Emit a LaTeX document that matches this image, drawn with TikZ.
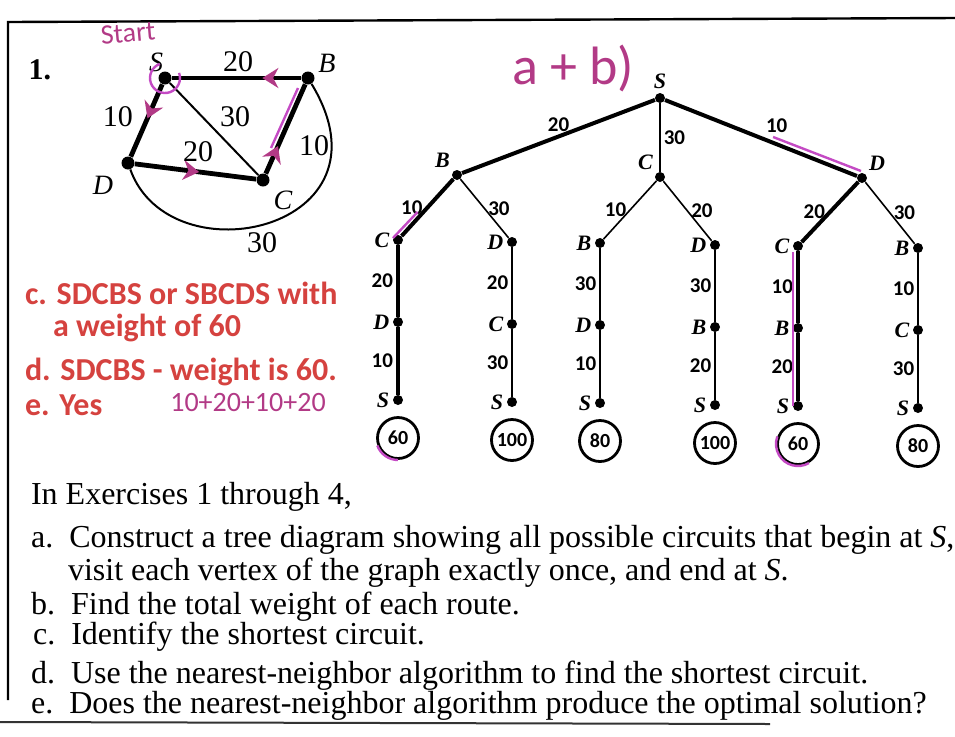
\documentclass[tikz,border=0pt]{standalone}
\usepackage{fontspec}
\setmainfont{Liberation Serif}
\setsansfont{Carlito}
\usetikzlibrary{calc,arrows.meta,decorations.markings}
\definecolor{inkred}{HTML}{D5423F}
\definecolor{penmag}{HTML}{B23A86}
\definecolor{hilite}{HTML}{C44AC4}

\begin{document}
\begin{tikzpicture}[x=0.5pt,y=-0.5pt,
  gdot/.style={circle,fill=black,inner sep=0pt,minimum size=6.5pt},
  tdot/.style={circle,fill=black,inner sep=0pt,minimum size=5pt},
  heavy/.style={draw=black,line width=2.4pt},
  light/.style={draw=black,line width=1pt},
  glab/.style={font=\fontsize{15}{15}\selectfont},
  gvlab/.style={font=\fontsize{14}{14}\selectfont\itshape,inner sep=0.5pt},
  tlab/.style={font=\sffamily\bfseries\fontsize{10.5}{10.5}\selectfont,inner sep=1.5pt},
  tvlab/.style={font=\bfseries\fontsize{11}{11}\selectfont\itshape,inner sep=1.5pt},
  total/.style={circle,draw=black,line width=1.4pt,minimum size=20.5pt,inner sep=0pt,
    font=\sffamily\bfseries\fontsize{10}{10}\selectfont},
  answer/.style={anchor=west,text=inkred,font=\sffamily\bfseries\fontsize{16}{16}\selectfont},
  hand/.style={text=penmag,font=\sffamily},
  task/.style={anchor=west,font=\fontsize{16}{16}\selectfont},
  pen/.style={draw=hilite,line width=1.2pt},
  dirmark/.style={postaction={decorate},decoration={markings,
    mark=at position #1 with {\arrow[penmag]{Stealth[length=8pt,width=10pt]}}}},
]
\useasboundingbox (0,0) rectangle (955,736);
% page frame
\draw[line width=1.2pt] (8,700) -- (8,22) -- (955,18);
\draw[line width=1pt,black!80] (0,722) -- (770,724);

% the graph of exercise 1
\node[font=\bfseries\fontsize{15}{15}\selectfont] (num) at (40,70) {1.};
\node[hand,font=\sffamily\fontsize{14}{14}\selectfont,rotate=5,inner sep=0.5pt] (start) at (128,33) {Start};
\node[gdot] (S) at (165,78) {};
\node[gdot] (B) at (308,78) {};
\node[gdot] (D) at (128,163) {};
\node[gdot] (C) at (263,180) {};
\node[gvlab] at (156,62) {S};
\node[gvlab] at (327,63) {B};
\node[gvlab] at (103,185) {D};
\node[gvlab] at (283,200) {C};
\draw[heavy,dirmark=0.3] (B) -- (S);
\draw[heavy,dirmark=0.47] (S) -- (D);
\draw[heavy,dirmark=0.53] (D) -- (C);
\draw[heavy,dirmark=0.31] (C) -- (B);
\draw[light] (S) -- (C);
\draw[light] (D) .. controls (170,280) and (400,230) .. (B);
\node[glab] at (238,62) {20};
\node[glab] at (118,117) {10};
\node[glab] at (235,117) {30};
\node[glab] at (198,152) {20};
\node[glab] at (314,146) {10};
\node[glab] at (262,243) {30};
\draw[pen] (298,88) -- (271,148);
\draw[pen] ($(S)+(-20:15)$) arc[start angle=-20,end angle=250,radius=15];

% tree of all circuits
\node[hand,font=\sffamily\fontsize{27}{27}\selectfont] (ab) at (573,68) {a + b)};
\node[tdot,label={[tvlab]above:S}] (r) at (660,98) {};
\node[tdot,label={[tvlab]above left:B}] (b1) at (457,175) {};
\node[tdot,label={[tvlab]above left:C}] (c1) at (660,177) {};
\node[tdot,label={[tvlab]above right:D}] (d1) at (862,178) {};
\draw[line width=2pt] (r) -- node[tlab,above] {20} (b1);
\draw[line width=0.8pt] (r) -- node[tlab,right] {30} (c1);
\draw[line width=2pt] (r) -- node[tlab,above right] {10} (d1);
\foreach \i/\x/\dy/\up/\w/\side/\na/\wa/\nb/\wb/\tot/\lw in {
  1/398/0/b1/10/left/C/20/D/10/60/2pt,
  2/512/2/b1/30/right/D/20/C/30/100/0.8pt,
  3/600/3/c1/10/left/B/30/D/10/80/0.8pt,
  4/715/5/c1/20/right/D/30/B/20/100/0.8pt,
  5/798/6/d1/20/left/C/10/B/20/60/2pt,
  6/918/8/d1/30/right/B/10/C/30/80/0.8pt}{
  \node[tdot,label={[tvlab]left:\na}] (m\i) at (\x,240+\dy) {};
  \node[tdot,label={[tvlab]left:\nb}] (n\i) at (\x,322+\dy) {};
  \node[tdot,label={[tvlab]left:S}] (e\i) at (\x,400+\dy) {};
  \node[total] (t\i) at (\x,438+\dy) {\tot};
  \draw[line width=\lw] (\up) -- node[tlab,\side] {\w} (m\i);
  \draw[line width=\lw] (m\i) -- node[tlab,left] {\wa} (n\i);
  \draw[line width=\lw] (n\i) -- node[tlab,left] {\wb} (e\i);
}
\draw[pen] ($(r)!0.55!(d1)+(2,-5)$) -- ($(d1)+(-1,-7)$);
\draw[pen] ($(b1)!0.6!(m1)+(-4,-2)$) -- ($(m1)+(-5,-2)$);
\draw[pen] ($(m5)+(-5,6)$) -- ($(e5)+(-5,0)$);
\draw[pen] ($(t1)+(90:22)$) arc[start angle=90,end angle=160,radius=22];
\draw[pen] ($(t5)+(60:22)$) arc[start angle=60,end angle=200,radius=22];

% answers
\node[answer] (ansc) at (18,293) {c. SDCBS or SBCDS with};
\node[answer] (ansc2) at (46,328) {a weight of 60};
\node[answer] (ansd) at (18,372) {d. SDCBS - weight is 60.};
\node[answer] (anse) at (18,405) {e. Yes};
\node[hand,font=\sffamily\fontsize{14}{14}\selectfont] (sum) at (248,402) {10+20+10+20};

% exercise text
\node[task] (intro) at (24,497) {In Exercises 1 through 4,};
\node[task] (qa) at (24,540) {a.\ \ Construct a tree diagram showing all possible circuits that begin at \textit{S},};
\node[task] (qa2) at (61,573) {visit each vertex of the graph exactly once, and end at \textit{S}.};
\node[task] (qb) at (24,607) {b.\ \ Find the total weight of each route.};
\node[task] (qc) at (26,637) {c.\ \ Identify the shortest circuit.};
\node[task] (qd) at (24,676) {d.\ \ Use the nearest-neighbor algorithm to find the shortest circuit.};
\node[task] (qe) at (24,706) {e.\ \ Does the nearest-neighbor algorithm produce the optimal solution?};
\end{tikzpicture}
\end{document}
